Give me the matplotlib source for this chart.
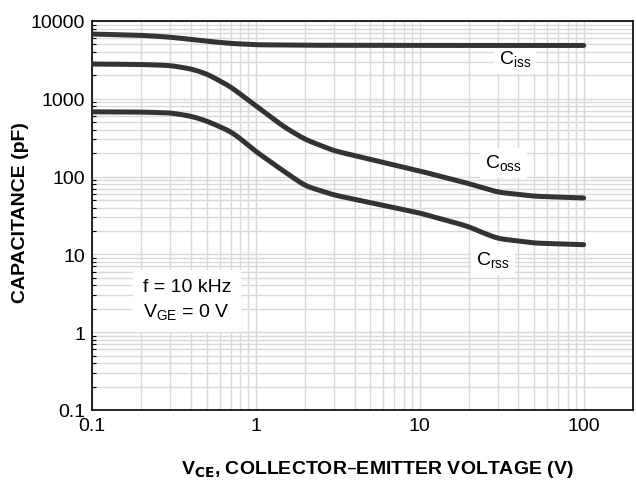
import matplotlib
matplotlib.use("Agg")
import matplotlib.pyplot as plt
from matplotlib.ticker import LogLocator, FixedLocator, NullFormatter, FixedFormatter
import numpy as np

plt.rcParams['font.family'] = ['Liberation Sans', 'DejaVu Sans']

# Data
v_ciss = [0.1, 0.2, 0.3, 0.4, 0.5, 0.7, 1.0, 2.0, 10.0, 100.0]
c_ciss = [6800, 6550, 6200, 5800, 5500, 5150, 4950, 4880, 4850, 4850]

v_coss = [0.1, 0.2, 0.3, 0.4, 0.5, 0.7, 1.0, 1.5, 2.0, 3.0, 4.8, 10.0, 19.6, 30.0, 50.0, 100.0]
c_coss = [2800, 2760, 2680, 2430, 2100, 1430, 810, 430, 300, 215, 170, 118, 82, 63, 56, 53]

v_crss = [0.1, 0.2, 0.3, 0.4, 0.5, 0.7, 0.8, 1.0, 1.5, 2.0, 3.0, 4.8, 10.0, 19.6, 25.0, 30.0, 50.0, 100.0]
c_crss = [680, 675, 660, 600, 520, 380, 310, 210, 115, 76, 58, 47, 34, 23, 18.5, 16, 14, 13.3]

x_ticks = [0.1, 1, 10, 100]
x_ticklabels = ["0.1", "1", "10", "100"]
y_ticks = [0.1, 1, 10, 100, 1000, 10000]
y_ticklabels = ["0.1", "1", "10", "100", "1000", "10000"]

fig = plt.figure(figsize=(6.37, 4.85), dpi=100)
ax = fig.add_axes([92/637, 1-411/485, (633-92)/637, (411-22)/485])

ax.set_xscale('log')
ax.set_yscale('log')
ax.set_xlim(0.1, 200)
ax.set_ylim(0.1, 10000)

grid_c = '#d9d9d9'
ax.grid(True, which='both', color=grid_c, linewidth=1.0)
ax.set_axisbelow(True)

line_c = '#333333'
for v, c in [(v_ciss, c_ciss), (v_coss, c_coss), (v_crss, c_crss)]:
    lv = np.log10(v)
    lc = np.log10(c)
    xs = np.linspace(lv[0], lv[-1], 300)
    ys = np.interp(xs, lv, lc)
    k = 9
    pad = np.pad(ys, (k//2, k//2), mode='edge')
    ys = np.convolve(pad, np.ones(k)/k, mode='valid')
    ax.plot(10**xs, 10**ys, color=line_c, linewidth=3.6, solid_capstyle='round', zorder=3)

ax.xaxis.set_major_locator(FixedLocator(x_ticks))
ax.xaxis.set_major_formatter(FixedFormatter(x_ticklabels))
ax.xaxis.set_minor_locator(LogLocator(base=10, subs=np.arange(2, 10)))
ax.xaxis.set_minor_formatter(NullFormatter())
ax.yaxis.set_major_locator(FixedLocator(y_ticks))
ax.yaxis.set_major_formatter(FixedFormatter(y_ticklabels))
ax.yaxis.set_minor_locator(LogLocator(base=10, subs=np.arange(2, 10)))
ax.yaxis.set_minor_formatter(NullFormatter())

ax.tick_params(axis='x', which='major', labelsize=14, length=0, pad=5, colors='black')
ax.tick_params(axis='y', which='major', labelsize=14, length=0, pad=5, colors='black')
ax.tick_params(axis='x', which='minor', length=0)
ax.tick_params(axis='y', which='minor', direction='in', length=3, width=0.8)

for s in ax.spines.values():
    s.set_color('black')
    s.set_linewidth(1.2)

fig.text(377/637, 1-470/485, 'V$_{\\mathbf{CE}}$, COLLECTOR\u2013EMITTER VOLTAGE (V)', fontsize=14,
         fontweight='bold', ha='center', va='center')
fig.text(21/637, 1-213/485, 'CAPACITANCE (pF)', fontsize=14, fontweight='bold',
         ha='center', va='center', rotation=90)

bbox = dict(boxstyle='square,pad=0.25', facecolor='white', edgecolor='none')
ax.text(38, 3240, r'C$_{\mathregular{iss}}$', fontsize=14, ha='center', va='center', bbox=bbox, zorder=2.5)
ax.text(32.5, 151, r'C$_{\mathregular{oss}}$', fontsize=14, ha='center', va='center', bbox=bbox, zorder=2.5)
ax.text(28, 8.4, r'C$_{\mathregular{rss}}$', fontsize=14, ha='center', va='center', bbox=bbox, zorder=2.5)

ax.text(0.205, 2.57, 'f = 10 kHz\nV$_{\\mathregular{GE}}$ = 0 V', fontsize=14, ha='left', va='center',
        linespacing=1.45, bbox=dict(boxstyle='square,pad=0.5', facecolor='white', edgecolor='none'), zorder=2.5)

fig.savefig('out.png', dpi=100)
